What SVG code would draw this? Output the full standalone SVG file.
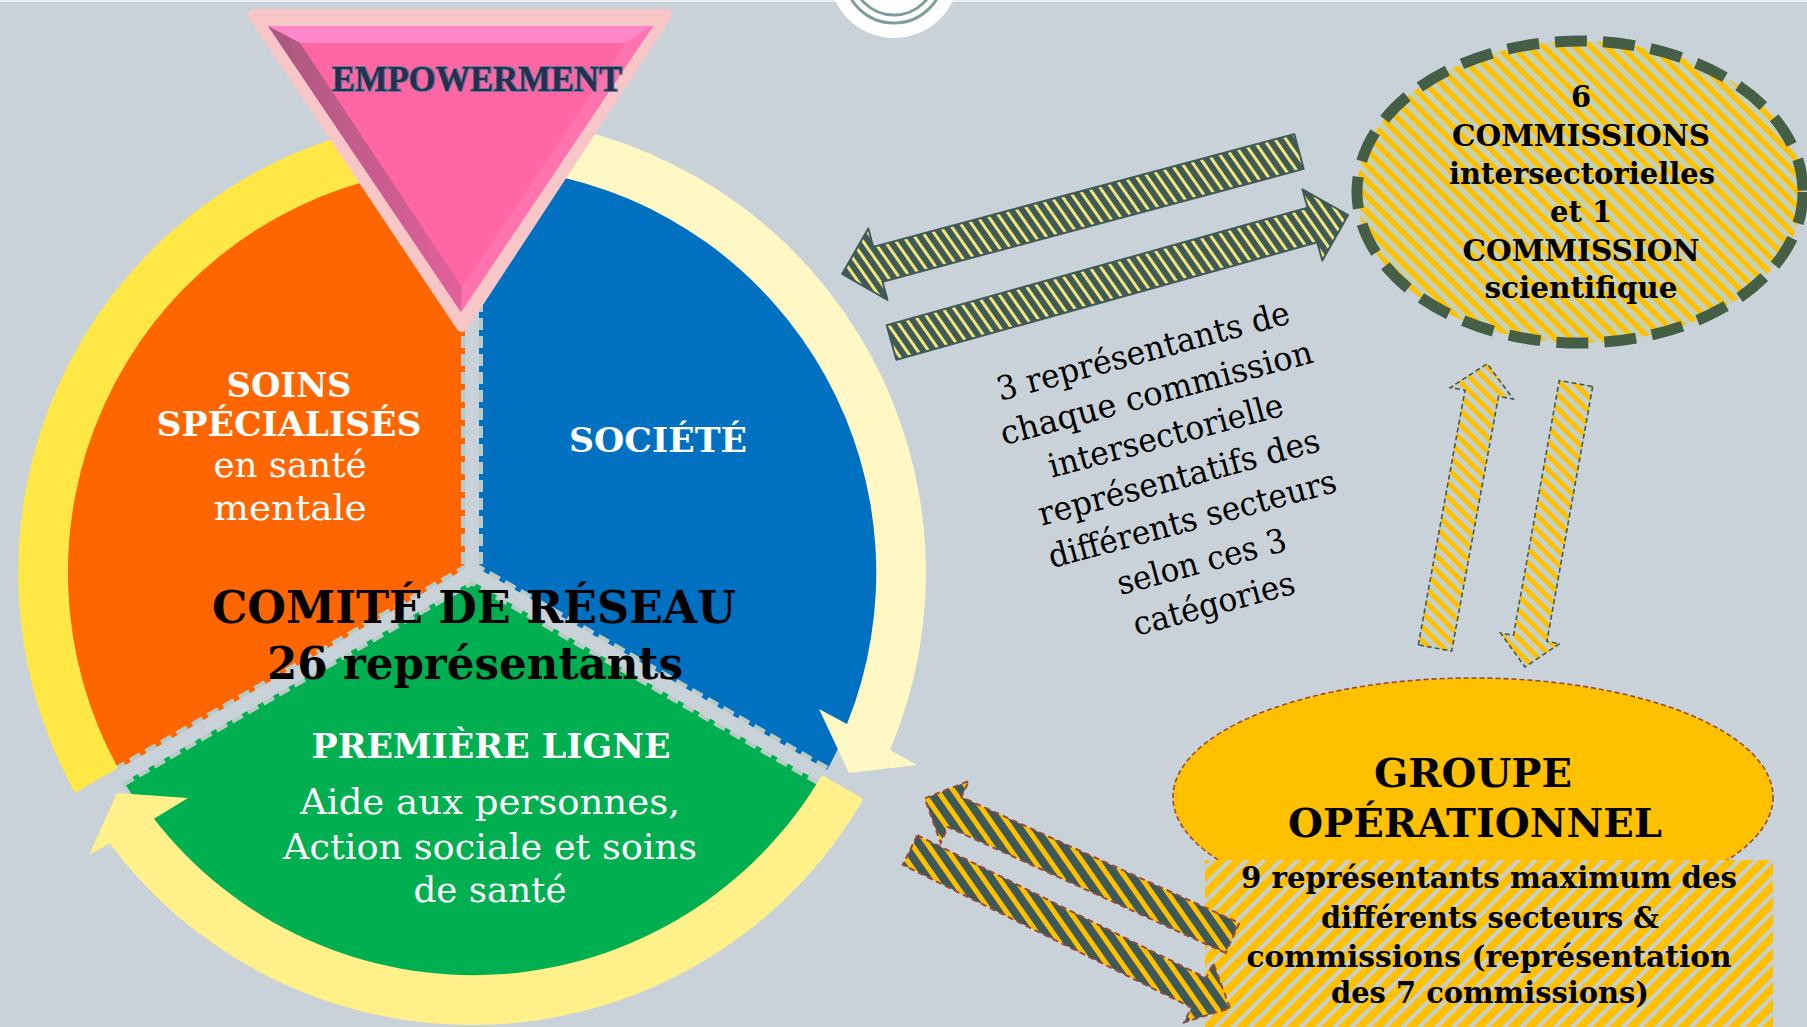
<svg xmlns="http://www.w3.org/2000/svg" width="1807" height="1027" viewBox="0 0 1807 1027">
<style>
.t{font-family:"DejaVu Serif","Liberation Serif",serif;text-anchor:middle}
.b{font-weight:bold}
.w{fill:#ffffff}
.k{fill:#000000}
.gapE{stroke:#b9cbc7;stroke-width:22;stroke-dasharray:12 6;fill:none}
.gapM{stroke:#c8d2d8;stroke-width:14;fill:none}
.arTop{fill:url(#pTop);stroke:#3f5a57;stroke-width:2;stroke-linejoin:round}
.arVert{fill:url(#pVert);stroke:#3f5a5a;stroke-width:1.6;stroke-dasharray:5 3}
.arBot{fill:url(#pBot);stroke:#9a4a3c;stroke-width:2;stroke-dasharray:6 4}
</style>
<defs>
<pattern id="pTop" patternUnits="userSpaceOnUse" width="9" height="9" patternTransform="rotate(-35)">
<rect width="9" height="9" fill="#3f5a57"/><rect width="3" height="9" fill="#f2e67a"/>
</pattern>
<pattern id="pBot" patternUnits="userSpaceOnUse" width="13" height="13" patternTransform="rotate(-35)">
<rect width="13" height="13" fill="#3f5858"/><rect width="5" height="13" fill="#ffc000"/>
</pattern>
<pattern id="pEll" patternUnits="userSpaceOnUse" width="11" height="11" patternTransform="rotate(-45)">
<rect width="11" height="11" fill="#c4d2b9"/><rect width="5.5" height="11" fill="#ffc000"/>
</pattern>
<pattern id="pVert" patternUnits="userSpaceOnUse" width="10" height="10" patternTransform="rotate(-45)">
<rect width="10" height="10" fill="#c3d0cf"/><rect width="5" height="10" fill="#ffc000"/>
</pattern>
<pattern id="pBox" patternUnits="userSpaceOnUse" width="12" height="12" patternTransform="rotate(45)">
<rect width="12" height="12" fill="#ffc000"/><rect width="4" height="12" fill="#c6d0d4"/>
</pattern>
<linearGradient id="gLeft" x1="0" y1="0" x2="1" y2="0">
<stop offset="0" stop-color="#a8587f"/><stop offset="1" stop-color="#e2609a"/>
</linearGradient>
</defs>

<rect width="1807" height="1027" fill="#c8d2d8"/>
<rect width="1807" height="2" fill="#e9eef0"/>

<g id="logo">
<circle cx="894" cy="-27" r="65" fill="#ffffff"/>
<circle cx="894" cy="-27" r="50" fill="none" stroke="#7d9e9c" stroke-width="3"/>
<circle cx="894" cy="-27" r="42" fill="none" stroke="#7d9e9c" stroke-width="3"/>
</g>

<g id="pie">
<path id="soins" d="M472 573 L120.4 776 A406 406 0 0 1 472 167 Z" fill="#ff6600"/>
<path id="societe" d="M472 573 L472 167 A406 406 0 0 1 823.6 776 Z" fill="#0070c0"/>
<path id="premiere-ligne" d="M472 573 L823.6 776 A406 406 0 0 1 120.4 776 Z" fill="#00b050"/>
<g id="gaps">
<path class="gapE" d="M472 300 L472 573 L827 778 M472 573 L117 778"/>
<path class="gapM" d="M472 300 L472 573 L827 778 M472 573 L117 778"/>
</g>
</g>

<g id="cycle-arrows">
<path id="arc-left" d="M75 793 A456 456 0 0 1 377.2 127 L387.6 175.9 A406 406 0 0 0 118 768 Z" fill="#ffe845"/>
<path id="arc-right" d="M551.2 123.9 A456 456 0 0 1 890 750 L917 765 L849 773 L819 709 L847 724 A406 406 0 0 0 542.5 173.2 Z" fill="#fff7c4"/>
<path id="arc-bottom" d="M821.9 775 L863.4 799 A452 452 0 0 1 109.9 843.6 L89 855 L117 793 L188 798 L153.9 818.8 A404 404 0 0 0 821.9 775 Z" fill="#fff08a"/>
</g>

<g id="pie-labels">
<text class="t b w" x="289" y="397" font-size="34" textLength="125" lengthAdjust="spacingAndGlyphs">SOINS</text>
<text class="t b w" x="289" y="436" font-size="34" textLength="265" lengthAdjust="spacingAndGlyphs">SPÉCIALISÉS</text>
<text class="t w" x="290" y="477" font-size="36" textLength="153" lengthAdjust="spacingAndGlyphs">en santé</text>
<text class="t w" x="290" y="520" font-size="36" textLength="153" lengthAdjust="spacingAndGlyphs">mentale</text>
<text class="t b w" x="658" y="452" font-size="34" textLength="178" lengthAdjust="spacingAndGlyphs">SOCIÉTÉ</text>
<text class="t b w" x="491" y="758" font-size="33" textLength="359" lengthAdjust="spacingAndGlyphs">PREMIÈRE LIGNE</text>
<text class="t w" x="490" y="814" font-size="36" textLength="380" lengthAdjust="spacingAndGlyphs">Aide aux personnes,</text>
<text class="t w" x="490" y="859" font-size="36" textLength="414" lengthAdjust="spacingAndGlyphs">Action sociale et soins</text>
<text class="t w" x="490" y="902" font-size="36" textLength="153" lengthAdjust="spacingAndGlyphs">de santé</text>
</g>

<g id="comite">
<text class="t b k" x="474" y="623" font-size="44" textLength="524" lengthAdjust="spacingAndGlyphs">COMITÉ DE RÉSEAU</text>
<text class="t b k" x="475" y="679" font-size="44" textLength="416" lengthAdjust="spacingAndGlyphs">26 représentants</text>
</g>

<g id="empowerment">
<polygon points="254,15 666,15 462,326" fill="#f9c6c8" stroke="#f9c6c8" stroke-width="12" stroke-linejoin="round"/>
<polygon points="268,26 653,26 461,312" fill="#ff66a3"/>
<polygon points="268,26 653,26 625,43 300,43" fill="#ff86c8"/>
<polygon points="268,26 300,43 462,287 461,312" fill="url(#gLeft)"/>
<polygon points="653,26 625,43 462,287 461,312" fill="#ff74ae"/>
<text x="477" y="91" font-family="'Liberation Serif',serif" font-weight="bold" font-size="35" text-anchor="middle" textLength="290" lengthAdjust="spacingAndGlyphs" fill="#26304e" stroke="#66789e" stroke-width="2" paint-order="stroke">EMPOWERMENT</text>
</g>

<g id="commissions">
<ellipse cx="1580" cy="192" rx="223" ry="151" fill="url(#pEll)" stroke="#455f46" stroke-width="11" stroke-dasharray="32 16"/>
<text class="t b k" x="1581" y="107" font-size="29">6</text>
<text class="t b k" x="1581" y="146" font-size="29" textLength="258" lengthAdjust="spacingAndGlyphs">COMMISSIONS</text>
<text class="t b k" x="1582" y="184" font-size="29" textLength="266" lengthAdjust="spacingAndGlyphs">intersectorielles</text>
<text class="t b k" x="1581" y="222" font-size="29">et 1</text>
<text class="t b k" x="1581" y="261" font-size="29" textLength="237" lengthAdjust="spacingAndGlyphs">COMMISSION</text>
<text class="t b k" x="1581" y="298" font-size="29" textLength="193" lengthAdjust="spacingAndGlyphs">scientifique</text>
</g>

<g id="groupe-operationnel">
<ellipse cx="1473" cy="797" rx="300" ry="119" fill="#ffc000" stroke="#9a4a3c" stroke-width="1.6" stroke-dasharray="5 3"/>
<text class="t b k" x="1473" y="787" font-size="40" textLength="198" lengthAdjust="spacingAndGlyphs">GROUPE</text>
<text class="t b k" x="1475" y="837" font-size="40" textLength="374" lengthAdjust="spacingAndGlyphs">OPÉRATIONNEL</text>
</g>

<g id="groupe-detail">
<rect x="1205" y="860" width="568" height="167" fill="url(#pBox)"/>
<text class="t b k" x="1489" y="888" font-size="29" textLength="496" lengthAdjust="spacingAndGlyphs">9 représentants maximum des</text>
<text class="t b k" x="1490" y="928" font-size="29" textLength="338" lengthAdjust="spacingAndGlyphs">différents secteurs &amp;</text>
<text class="t b k" x="1489" y="967" font-size="29" textLength="485" lengthAdjust="spacingAndGlyphs">commissions (représentation</text>
<text class="t b k" x="1490" y="1003" font-size="29" textLength="318" lengthAdjust="spacingAndGlyphs">des 7 commissions)</text>
</g>

<g id="representants-note" transform="translate(1146 362) rotate(-15)">
<text class="t k" x="0" y="0" font-size="33" textLength="302" lengthAdjust="spacingAndGlyphs">3 représentants de</text>
<text class="t k" x="2" y="43.7" font-size="33" textLength="322" lengthAdjust="spacingAndGlyphs">chaque commission</text>
<text class="t k" x="0" y="87.4" font-size="33" textLength="242" lengthAdjust="spacingAndGlyphs">intersectorielle</text>
<text class="t k" x="2" y="131.1" font-size="33" textLength="290" lengthAdjust="spacingAndGlyphs">représentatifs des</text>
<text class="t k" x="4" y="174.8" font-size="33" textLength="297" lengthAdjust="spacingAndGlyphs">différents secteurs</text>
<text class="t k" x="2" y="218.5" font-size="33" textLength="174" lengthAdjust="spacingAndGlyphs">selon ces 3</text>
<text class="t k" x="3" y="262.2" font-size="33" textLength="166" lengthAdjust="spacingAndGlyphs">catégories</text>
</g>

<g id="connectors">
<polygon class="arTop" points="1303.7,168.9 882.5,281.7 887.5,300 842.1,273.9 868.3,228.6 873.2,246.9 1294.3,134.1"/>
<polygon class="arTop" points="886.7,325.2 1307.6,207.7 1302.5,189.4 1348.1,215 1322.3,260.6 1317.2,242.3 896.3,359.8"/>
<polygon class="arVert" points="1418.3,644.9 1465,390.2 1450.3,387.5 1487.2,363.7 1513.2,399 1498.5,396.4 1451.7,651.1"/>
<polygon class="arVert" points="1592.7,386.5 1546.9,641.4 1559.7,643.7 1525,667 1500.6,633.1 1513.4,635.4 1559.3,380.5"/>
<polygon class="arBot" points="1225.7,953 947.9,827 940.7,842.9 924.7,798.4 968.8,781 961.5,797 1239.3,923"/>
<polygon class="arBot" points="917.3,835.2 1206,977.9 1213.3,963.1 1230,1008.2 1184.1,1022.3 1191.4,1007.5 902.7,864.8"/>
</g>
</svg>
